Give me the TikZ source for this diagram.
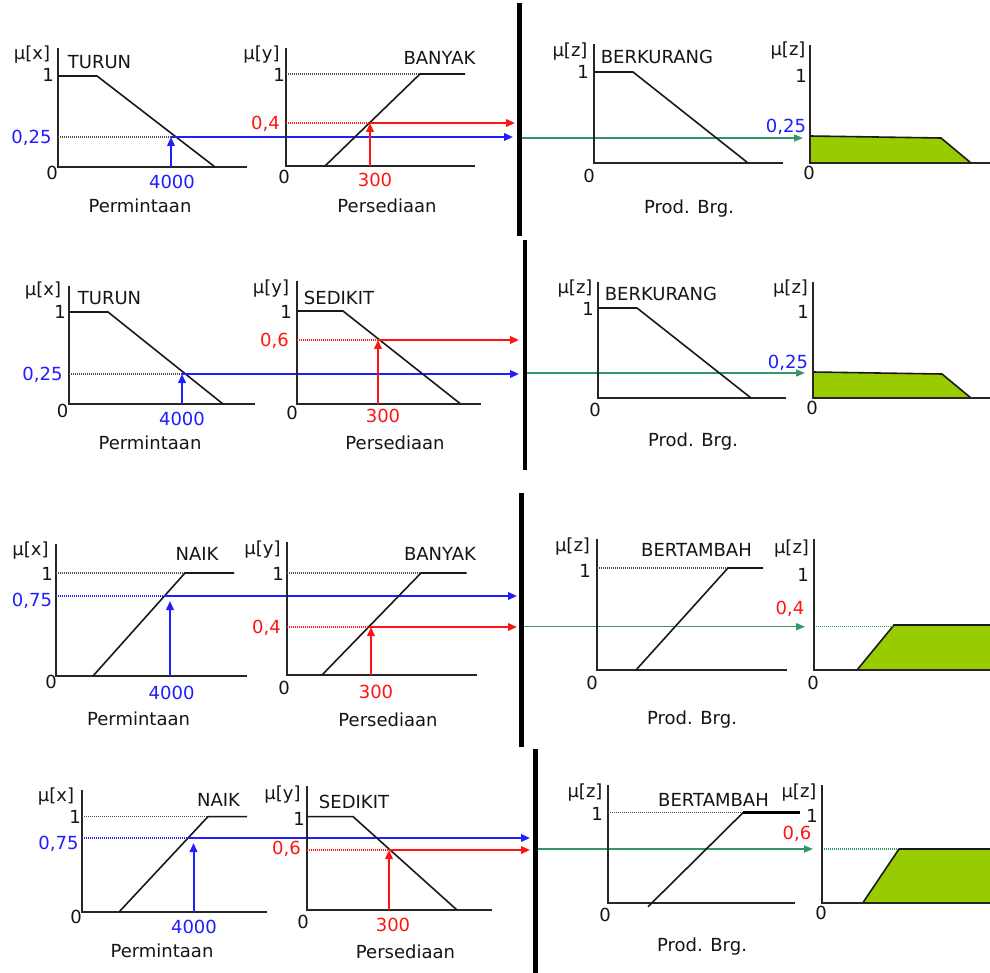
\documentclass[tikz,border=0pt]{standalone}
\usepackage{fontspec}
\setmainfont{DejaVu Sans}
\usetikzlibrary{arrows.meta}
\definecolor{fblue}{RGB}{30,30,255}
\definecolor{fred}{RGB}{255,20,20}
\definecolor{fgreen}{RGB}{51,150,100}
\definecolor{ffill}{RGB}{153,204,0}
\definecolor{ftext}{RGB}{25,20,15}
\tikzset{
  lab/.style={anchor=base, yshift=-6.5pt, inner sep=0pt, text=ftext, font=\fontsize{18}{21}\selectfont},
  blab/.style={lab, text=fblue},
  rlab/.style={lab, text=fred},
  axisline/.style={draw=black!85, line width=2pt},
  mf/.style={draw=black!90, line width=1.6pt},
  dotline/.style={line width=1.1pt, dash pattern=on 1pt off 1pt},
  harrow/.style={line width=2pt, -{Triangle[length=9pt,width=7.5pt]}},
  garrow/.style={draw=fgreen, line width=1.5pt, -{Triangle[length=9pt,width=7pt]}},
  sep/.style={draw=black, line width=4.5pt},
  outfill/.style={fill=ffill, draw=black!90, line width=1.6pt, line join=miter}
}
\begin{document}
\begin{tikzpicture}[x=1pt,y=-1pt]
\useasboundingbox (0,0) rectangle (990,973);
\fill[white] (0,0) rectangle (990,973);

% ================= ROW 1 =================
% chart A1
\draw[axisline] (58,48) -- (58,167) -- (247,167);
\draw[mf] (58,76) -- (97,76) -- (215,167);
\coordinate (a1x) at (171,167); \coordinate (a1p) at (171,137); \coordinate (a1l) at (58,137); \coordinate (a1e) at (513,137);
\draw[dotline, black!70] (a1l) -- (a1p);
\draw[harrow, fblue] (a1x) -- (a1p);
\draw[harrow, fblue] (a1p) -- (a1e);
\node[lab] (a1mu) at (32,53) {μ[x]};
\node[lab] (a1t) at (99.5,62) {TURUN};
\node[lab] (a1one) at (48,75) {1};
\node[blab] (a1v) at (31.5,137) {0,25};
\node[lab] (a1z) at (52,173) {0};
\node[blab] (a1n) at (172,182) {4000};
\node[lab] (a1c) at (140,206) {Permintaan};
% chart B1
\draw[axisline] (286,48) -- (286,166) -- (475,166);
\draw[dotline, black!70] (286,74) -- (420,74);
\draw[mf] (325,166) -- (420,74) -- (465,74);
\coordinate (b1x) at (370,166); \coordinate (b1p) at (370,123); \coordinate (b1l) at (286,123); \coordinate (b1e) at (515,123);
\draw[dotline, fred] (b1l) -- (b1p);
\draw[harrow, fred] (b1x) -- (b1p);
\draw[harrow, fred] (b1p) -- (b1e);
\node[lab] (b1mu) at (261.5,53) {μ[y]};
\node[lab] (b1t) at (439.5,58) {BANYAK};
\node[lab] (b1one) at (279,75) {1};
\node[rlab] (b1v) at (265.5,123) {0,4};
\node[lab] (b1z) at (284,177) {0};
\node[rlab] (b1n) at (375,180) {300};
\node[lab] (b1c) at (387,206) {Persediaan};
% separator and green
\draw[sep] (519.5,3) -- (519.5,236);
\coordinate (g1s) at (522,138); \coordinate (g1e) at (803,138);
\draw[garrow] (g1s) -- (g1e);
% chart C1
\draw[axisline] (594,44) -- (594,163) -- (783,163);
\draw[mf] (594,72) -- (633,72) -- (748,163);
\node[lab] (c1mu) at (570,50) {μ[z]};
\node[lab] (c1t) at (657,57) {BERKURANG};
\node[lab] (c1one) at (583,72) {1};
\node[lab] (c1z) at (589,176) {0};
\node[lab] (c1c) at (689,207) {Prod. Brg.};
% chart D1
\draw[outfill] (810,163) -- (810,136) -- (941,138) -- (971,163) -- cycle;
\draw[axisline] (810,45) -- (810,163) -- (990,163);
\node[lab] (d1mu) at (788,49) {μ[z]};
\node[lab] (d1one) at (801,76) {1};
\node[blab] (d1v) at (786,126) {0,25};
\node[lab] (d1z) at (809,173) {0};

% ================= ROW 2 =================
% chart A2
\draw[axisline] (69,286) -- (69,404) -- (255,404);
\draw[mf] (69,312) -- (108,312) -- (223,404);
\coordinate (a2x) at (182,404); \coordinate (a2p) at (182,374); \coordinate (a2l) at (69,374); \coordinate (a2e) at (519,374);
\draw[dotline, black!70] (a2l) -- (a2p);
\draw[harrow, fblue] (a2x) -- (a2p);
\draw[harrow, fblue] (a2p) -- (a2e);
\node[lab] (a2mu) at (43,289) {μ[x]};
\node[lab] (a2t) at (109.5,298) {TURUN};
\node[lab] (a2one) at (60,312) {1};
\node[blab] (a2v) at (42.5,374) {0,25};
\node[lab] (a2z) at (62.5,411) {0};
\node[blab] (a2n) at (182,419) {4000};
\node[lab] (a2c) at (150,443) {Permintaan};
% chart B2
\draw[axisline] (296.5,281) -- (296.5,403.5) -- (481,403.5);
\draw[mf] (296.5,311) -- (343,311) -- (460,403.5);
\coordinate (b2x) at (378,403.5); \coordinate (b2p) at (378,340); \coordinate (b2l) at (296.5,340); \coordinate (b2e) at (519,340);
\draw[dotline, fred] (b2l) -- (b2p);
\draw[harrow, fred] (b2x) -- (b2p);
\draw[harrow, fred] (b2p) -- (b2e);
\node[lab] (b2mu) at (271,287.5) {μ[y]};
\node[lab] (b2t) at (339,298) {SEDIKIT};
\node[lab] (b2one) at (286,312) {1};
\node[rlab] (b2v) at (274.5,340) {0,6};
\node[lab] (b2z) at (292,412.5) {0};
\node[rlab] (b2n) at (383,416) {300};
\node[lab] (b2c) at (395,443) {Persediaan};
% separator and green
\draw[sep] (525,240) -- (525,470);
\coordinate (g2s) at (527,373); \coordinate (g2e) at (805,373);
\draw[garrow] (g2s) -- (g2e);
% chart C2
\draw[axisline] (598,282) -- (598,398) -- (786,398);
\draw[mf] (598,308) -- (637,308) -- (751,398);
\node[lab] (c2mu) at (575,287) {μ[z]};
\node[lab] (c2t) at (661,294) {BERKURANG};
\node[lab] (c2one) at (588,309) {1};
\node[lab] (c2z) at (595,410) {0};
\node[lab] (c2c) at (693,440) {Prod. Brg.};
% chart D2
\draw[outfill] (813,398) -- (813,372) -- (942,374) -- (971,398) -- cycle;
\draw[axisline] (813,282) -- (813,398) -- (990,398);
\node[lab] (d2mu) at (790.5,287) {μ[z]};
\node[lab] (d2one) at (803,312) {1};
\node[blab] (d2v) at (788,362) {0,25};
\node[lab] (d2z) at (812,408) {0};

% ================= ROW 3 =================
% chart A3
\draw[axisline] (56,544) -- (56,676) -- (247,676);
\draw[dotline, black!70] (56,573) -- (185,573);
\draw[mf] (93,676) -- (185,573) -- (234,573);
\coordinate (a3x) at (170,676); \coordinate (a3t) at (170,601); \coordinate (a3p) at (165,596); \coordinate (a3l) at (56,596); \coordinate (a3e) at (517,596);
\draw[dotline, fblue] (a3l) -- (a3p);
\draw[harrow, fblue] (a3x) -- (a3t);
\draw[harrow, fblue] (a3p) -- (a3e);
\node[lab] (a3mu) at (30.5,549) {μ[x]};
\node[lab] (a3tt) at (197,554) {NAIK};
\node[lab] (a3one) at (47,574) {1};
\node[blab] (a3v) at (32,600) {0,75};
\node[lab] (a3z) at (51,682) {0};
\node[blab] (a3n) at (171.6,693) {4000};
\node[lab] (a3c) at (138.6,719) {Permintaan};
% chart B3
\draw[axisline] (286.7,542) -- (286.7,675) -- (477,675);
\draw[dotline, black!70] (286.7,573) -- (421,573);
\draw[mf] (322,675) -- (421,573) -- (466.5,573);
\coordinate (b3x) at (371,675); \coordinate (b3t) at (371,627); \coordinate (b3p) at (370,627); \coordinate (b3l) at (286.7,627); \coordinate (b3e) at (517,627);
\draw[dotline, fred] (b3l) -- (b3p);
\draw[harrow, fred] (b3x) -- (b3t);
\draw[harrow, fred] (b3p) -- (b3e);
\node[lab] (b3mu) at (262.5,547.5) {μ[y]};
\node[lab] (b3tt) at (440,554) {BANYAK};
\node[lab] (b3one) at (278,574) {1};
\node[rlab] (b3v) at (266.5,627) {0,4};
\node[lab] (b3z) at (284,688) {0};
\node[rlab] (b3n) at (376,692) {300};
\node[lab] (b3c) at (388,720) {Persediaan};
% separator and green
\draw[sep] (521.5,493) -- (521.5,747);
\coordinate (g3s) at (524,626.7); \coordinate (g3e) at (805,626.7);
\draw[garrow] (g3s) -- (g3e);
% chart C3
\draw[axisline] (596.7,539) -- (596.7,670) -- (786.7,670);
\draw[dotline, black!70] (596.7,568) -- (728,568);
\draw[mf] (636,670) -- (728,568) -- (763,568);
\node[lab] (c3mu) at (572.5,545) {μ[z]};
\node[lab] (c3t) at (696.5,550) {BERTAMBAH};
\node[lab] (c3one) at (585,571) {1};
\node[lab] (c3z) at (592,683) {0};
\node[lab] (c3c) at (692,718) {Prod. Brg.};
% chart D3
\fill[ffill] (857,670) -- (894,625) -- (991,625) -- (991,670) -- cycle;
\draw[mf] (857,670) -- (894,625) -- (991,625);
\draw[dotline, fgreen] (814,626.7) -- (894,626.7);
\draw[axisline] (814,539) -- (814,670) -- (990,670);
\node[lab] (d3mu) at (791.5,547) {μ[z]};
\node[lab] (d3one) at (803,575) {1};
\node[rlab] (d3v) at (790,608) {0,4};
\node[lab] (d3z) at (813,683) {0};

% ================= ROW 4 =================
% chart A4
\draw[axisline] (82,790) -- (82,912) -- (267,912);
\draw[dotline, black!70] (82,816.6) -- (208,816.6);
\draw[mf] (119,912) -- (208,816.6) -- (247,816.6);
\coordinate (a4x) at (193.5,912); \coordinate (a4t) at (193.5,843); \coordinate (a4p) at (189,838); \coordinate (a4l) at (82,838); \coordinate (a4e) at (530,838);
\draw[dotline, fblue] (a4l) -- (a4p);
\draw[harrow, fblue] (a4x) -- (a4t);
\draw[harrow, fblue] (a4p) -- (a4e);
\node[lab] (a4mu) at (56,795) {μ[x]};
\node[lab] (a4tt) at (218.5,800) {NAIK};
\node[lab] (a4one) at (75,817) {1};
\node[blab] (a4v) at (58.5,843) {0,75};
\node[lab] (a4z) at (76,917) {0};
\node[blab] (a4n) at (194,927) {4000};
\node[lab] (a4c) at (162,951) {Permintaan};
% chart B4
\draw[axisline] (306.5,786) -- (306.5,910) -- (492,910);
\draw[mf] (306.5,816.6) -- (353,816.6) -- (457,910);
\coordinate (b4x) at (389,910); \coordinate (b4p) at (389,850); \coordinate (b4l) at (306.5,850); \coordinate (b4e) at (530,850);
\draw[dotline, fred] (b4l) -- (b4p);
\draw[harrow, fred] (b4x) -- (b4p);
\draw[harrow, fred] (b4p) -- (b4e);
\node[lab] (b4mu) at (282.5,793) {μ[y]};
\node[lab] (b4t) at (354,802) {SEDIKIT};
\node[lab] (b4one) at (299,819) {1};
\node[rlab] (b4v) at (286.5,848) {0,6};
\node[lab] (b4z) at (303,922) {0};
\node[rlab] (b4n) at (393,925) {300};
\node[lab] (b4c) at (405.5,952) {Persediaan};
% separator and green
\draw[sep] (535.5,749) -- (535.5,975);
\coordinate (g4s) at (538,849); \coordinate (g4e) at (813,849);
\draw[garrow] (g4s) -- (g4e);
% chart C4
\draw[axisline] (608,785) -- (608,903) -- (795,903);
\draw[dotline, black!70] (608,812.7) -- (743,812.7);
\draw[mf] (648,906.7) -- (743,812.7);
\draw[draw=black, line width=3.5pt] (743,812.7) -- (800,812.7);
\node[lab] (c4mu) at (585,791) {μ[z]};
\node[lab] (c4t) at (713.5,800) {BERTAMBAH};
\node[lab] (c4one) at (597,814) {1};
\node[lab] (c4z) at (605,915) {0};
\node[lab] (c4c) at (702,945) {Prod. Brg.};
% chart D4
\fill[ffill] (862.7,903) -- (899,849) -- (991,849) -- (991,903) -- cycle;
\draw[mf] (862.7,903) -- (899,849) -- (991,849);
\draw[dotline, fgreen] (822,849) -- (898,849);
\draw[axisline] (821.7,785) -- (821.7,903) -- (990,903);
\node[lab] (d4mu) at (799,791) {μ[z]};
\node[lab] (d4one) at (812,816) {1};
\node[rlab] (d4v) at (797,833) {0,6};
\node[lab] (d4z) at (821,913) {0};
\end{tikzpicture}
\end{document}
